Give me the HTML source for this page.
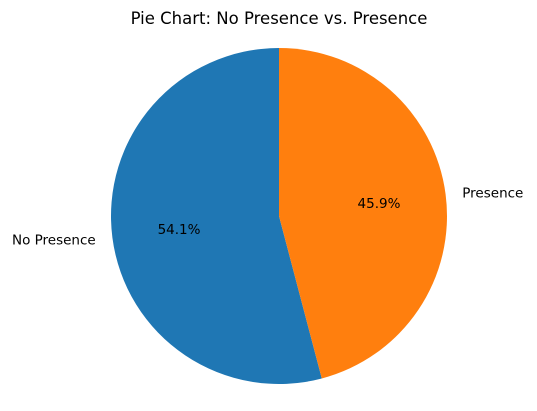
<!DOCTYPE html>
<html><head><meta charset="utf-8"><style>
html,body{margin:0;padding:0;background:#fff;}
svg{display:block;font-family:"DejaVu Sans","Liberation Sans",sans-serif;}
</style></head><body>
<svg id="chart" width="537" height="411" viewBox="0 0 537 411">
<text x="279" y="24" text-anchor="middle" font-size="16.5" fill="#000">Pie Chart: No Presence vs. Presence</text>
<g id="slices"></g>
</svg>
<script>
const categories = ["No Presence", "Presence"];
const values = [54.1, 45.9];
const colors = ["#1f77b4", "#ff7f0e"];
const cx = 279, cy = 216, r = 168;
const ns = "http://www.w3.org/2000/svg";
const g = document.getElementById("slices");
const total = values.reduce((a, b) => a + b, 0);
let start = 90;
function pt(a, rr) { const t = a * Math.PI / 180; return [cx + rr * Math.cos(t), cy - rr * Math.sin(t)]; }
values.forEach((v, i) => {
  const sweep = v / total * 360, end = start + sweep;
  const [x1, y1] = pt(start, r), [x2, y2] = pt(end, r);
  const p = document.createElementNS(ns, "path");
  p.setAttribute("d", `M${cx},${cy} L${x1},${y1} A${r},${r} 0 ${sweep > 180 ? 1 : 0} 0 ${x2},${y2} Z`);
  p.setAttribute("fill", colors[i]);
  
  
  g.appendChild(p);
  const mid = start + sweep / 2;
  const [lx, ly] = pt(mid, r * 1.1);
  const lt = document.createElementNS(ns, "text");
  lt.setAttribute("x", lx); lt.setAttribute("y", ly + 5);
  lt.setAttribute("font-size", "13.5");
  lt.setAttribute("text-anchor", Math.cos(mid * Math.PI / 180) < 0 ? "end" : "start");
  lt.textContent = categories[i];
  
  
  g.appendChild(lt);
  const [px, py] = pt(mid, r * 0.6);
  const pc = document.createElementNS(ns, "text");
  pc.setAttribute("x", px); pc.setAttribute("y", py + 5);
  pc.setAttribute("font-size", "13.5");
  pc.setAttribute("text-anchor", "middle");
  pc.textContent = (v / total * 100).toFixed(1) + "%";
  
  
  g.appendChild(pc);
  start = end;
});
</script>
</body></html>
